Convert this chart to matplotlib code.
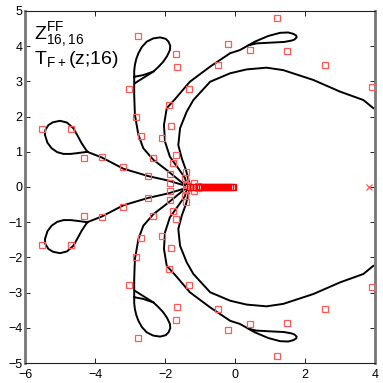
import numpy as np
import matplotlib
matplotlib.use("Agg")
import matplotlib.pyplot as plt

plt.rcParams['font.family'] = ['Liberation Sans', 'DejaVu Sans']
plt.rcParams['mathtext.default'] = 'regular'

# curves, upper half (lower half is the mirror image)
ray_loop_x = [-1.43, -1.90, -2.48, -3.19, -3.81, -4.22, -4.30, -4.38, -4.50, -4.62, -4.80,
              -5.00, -5.20, -5.33, -5.42, -5.43, -5.36, -5.24, -5.08, -4.90, -4.70,
              -4.52, -4.22]
ray_loop_y = [0.04, 0.18, 0.31, 0.52, 0.84, 1.00, 1.12, 1.24, 1.46, 1.67, 1.83,
              1.88, 1.84, 1.76, 1.62, 1.48, 1.26, 1.10, 0.99, 0.94, 0.94,
              0.96, 1.00]

stem_x = [-1.43, -1.52, -1.95, -2.33, -2.62, -2.76, -2.86, -2.88, -2.88, -2.88, -2.86,
          -2.82, -2.76, -2.66, -2.52, -2.34, -2.14, -1.98, -1.90, -1.85, -1.86, -1.94,
          -2.05, -2.18, -2.33, -2.62, -2.88]
stem_y = [0.06, 0.13, 0.48, 0.77, 1.10, 1.48, 2.05, 2.61, 3.13, 3.30, 3.47,
          3.64, 3.80, 3.98, 4.13, 4.22, 4.25, 4.21, 4.13, 4.01, 3.89, 3.72,
          3.56, 3.42, 3.28, 3.18, 3.13]
brace_x = [-2.86, -2.33]
brace_y = [2.95, 3.28]

mid_x = [-1.38, -1.43, -1.62, -1.86, -2.00, -2.03, -1.95, -1.71, -1.29, -0.71, -0.14,
         0.14, 0.57, 0.95, 1.29, 1.52, 1.67, 1.75, 1.76, 1.70, 1.62, 1.40, 1.19,
         0.62, 0.40]
mid_y = [0.08, 0.26, 0.53, 0.86, 1.29, 1.76, 2.24, 2.50, 2.99, 3.42, 3.80,
         3.89, 4.13, 4.29, 4.38, 4.39, 4.35, 4.30, 4.25, 4.19, 4.16, 4.12, 4.11,
         4.08, 4.03]

arc_x = [-1.29, -1.33, -1.40, -1.52, -1.62, -1.57, -1.38, -1.19, -0.71, -0.14, 0.33,
         0.90, 1.38, 2.24, 3.00, 3.67, 3.95]
arc_y = [0.08, 0.20, 0.48, 0.81, 1.19, 1.67, 2.14, 2.47, 2.99, 3.23, 3.34,
         3.39, 3.32, 3.04, 2.71, 2.47, 2.24]

# red squares, upper half
sq_x = [-2.78, -1.69, -1.67, -3.02, -1.31, -1.88, -2.82, -1.83, -2.68, -2.08, -5.51,
        -4.69, -4.31, -3.80, -3.19, -2.49, -2.33, -1.68, -1.78, -1.86, -1.40, -1.85,
        -1.43, -1.17, -1.05, -1.40, 1.21, -0.21, 0.44, 1.49, -0.48, 2.56, 3.92]
sq_y = [4.29, 3.78, 3.40, 2.78, 2.78, 2.34, 1.98, 1.72, 1.46, 1.38, 1.64,
        1.64, 0.83, 0.85, 0.56, 0.31, 0.83, 0.91, 0.68, 0.36, 0.42, 0.10,
        0.26, 0.10, 0.04, 0.06, 4.79, 4.05, 3.88, 3.86, 3.46, 3.46, 2.83]

# dense squares on the real axis
axis_sq_x = [-1.30, -1.20, -1.00, -0.95, -0.90, -0.85, -0.80, -0.75, -0.70, -0.65,
             -0.60, -0.55, -0.50, -0.45, -0.40, -0.35, -0.30, -0.25, -0.20, -0.15,
             -0.10, -0.05]
cross_x = [3.82]
cross_y = [0.0]

fig = plt.figure(figsize=(3.83, 3.83), dpi=100)
ax = fig.add_axes([0.0653, 0.0522, 0.9138, 0.9191])

for cx, cy in [(ray_loop_x, ray_loop_y), (stem_x, stem_y), (brace_x, brace_y),
               (mid_x, mid_y), (arc_x, arc_y)]:
    cx = np.array(cx)
    cy = np.array(cy)
    ax.plot(cx, cy, '-', color='k', lw=1.4, zorder=2)
    ax.plot(cx, -cy, '-', color='k', lw=1.4, zorder=2)

sx = np.array(sq_x)
sy = np.array(sq_y)
red = '#ff5a5a'
ax.plot(np.concatenate([sx, sx]), np.concatenate([sy, -sy]), 's', ls='none',
        mfc='none', mec=red, ms=4, mew=0.9, zorder=3)
ax.plot(axis_sq_x, np.zeros(len(axis_sq_x)), 's', ls='none',
        mfc='none', mec='red', ms=4, mew=0.9, zorder=3)
ax.plot([-1.25, -1.25], [0.03, -0.03], 'o', ls='none', mfc='none', mec='k', ms=3, mew=0.6)
ax.plot(cross_x, cross_y, 'x', ls='none', color=red, ms=4, mew=0.9)

ax.set_xlim(-6, 4)
ax.set_ylim(-5, 5)
ax.set_xticks([-6, -4, -2, 0, 2, 4])
ax.set_yticks([-5, -4, -3, -2, -1, 0, 1, 2, 3, 4, 5])
ax.set_xticklabels(['\u22126', '\u22124', '\u22122', '0', '2', '4'])
ax.set_yticklabels(['\u22125', '\u22124', '\u22123', '\u22122', '\u22121', '0',
                    '1', '2', '3', '4', '5'])
ax.tick_params(direction='in', top=True, right=True, length=3.5, width=0.6,
               labelsize=9)
ax.tick_params(axis='x', pad=4)
ax.tick_params(axis='y', pad=2)
for s in ['left', 'right']:
    ax.spines[s].set_linewidth(2)
    ax.spines[s].set_color('#777777')
for s in ['top', 'bottom']:
    ax.spines[s].set_linewidth(0.8)
    ax.spines[s].set_color('#222222')

ax.text(-5.75, 4.2, r'$Z^{FF}_{16,16}$', fontsize=14, va='baseline')
ax.text(-5.75, 3.5, r'$T_{F+}$(z;16)', fontsize=14, va='baseline')

fig.savefig('out.png', dpi=100)
